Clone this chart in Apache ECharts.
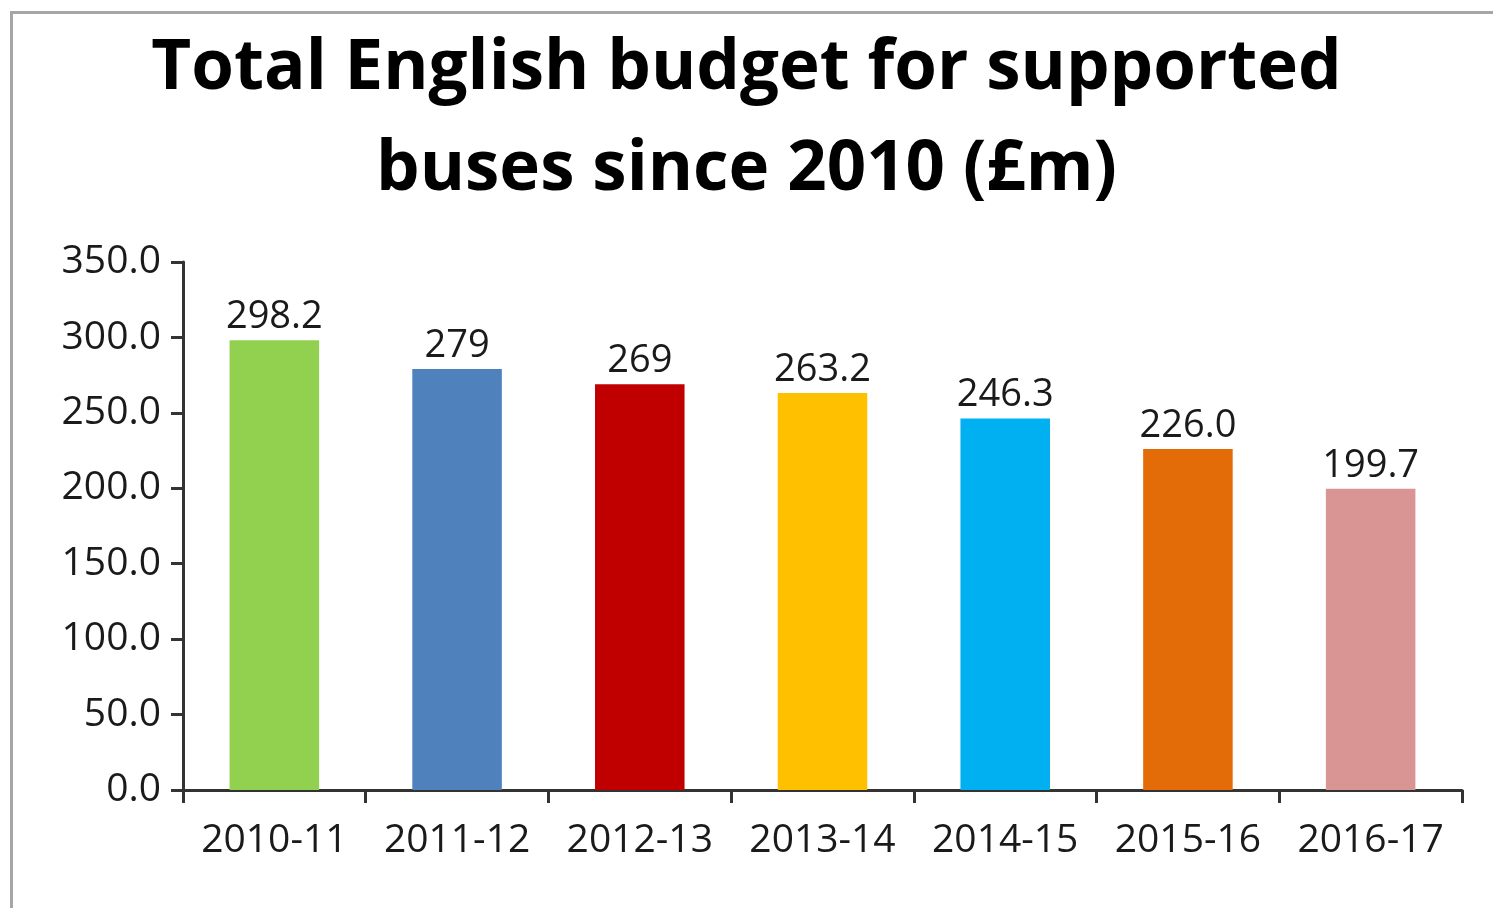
<!DOCTYPE html>
<html>
<head>
<meta charset="utf-8">
<script src="https://cdn.jsdelivr.net/npm/echarts@6/dist/echarts.min.js"></script>
<style>
html,body{margin:0;padding:0;background:#fff;overflow:hidden;}
#frame{position:absolute;left:10px;top:11px;width:1500px;height:920px;border:3px solid #a6a6a6;box-sizing:border-box;}
#chart{position:absolute;left:0;top:0;width:1493px;height:908px;}
</style>
</head>
<body>
<div id="frame"></div>
<div id="chart"></div>
<script>
const categories = ['2010-11','2011-12','2012-13','2013-14','2014-15','2015-16','2016-17'];
const budgetValues = [298.2, 279, 269, 263.2, 246.3, 226.0, 199.7];
const budgetLabels = ['298.2','279','269','263.2','246.3','226.0','199.7'];
const barColors = ['#92D050','#4F81BD','#C00000','#FFC000','#00B0F0','#E36C09','#D99594'];
const yTicks = [0,50,100,150,200,250,300,350];

const FONT = '"Open Sans", sans-serif';
const AXIS = '#333333';
const chart = echarts.init(document.getElementById('chart'), null, {renderer:'canvas'});
chart.setOption({
  animation:false,
  backgroundColor:'transparent',
  title:{
    text:'Total English budget for supported\nbuses since 2010 (£m)',
    left:'center', top:14,
    textStyle:{fontFamily:FONT, fontWeight:'bold', fontSize:69, lineHeight:101, color:'#000'}
  },
  grid:{left:183, right:31, top:262, bottom:118, containLabel:false},
  xAxis:{
    type:'category', data:categories,
    axisLine:{lineStyle:{color:AXIS, width:3}},
    axisTick:{show:true, alignWithLabel:false, interval:0, length:13, lineStyle:{color:AXIS, width:3}},
    axisLabel:{interval:0, hideOverlap:false, fontFamily:FONT, fontSize:39, color:'#1a1a1a', margin:31}
  },
  yAxis:{
    type:'value', min:0, max:350, interval:50,
    splitLine:{show:false},
    axisLine:{show:true, lineStyle:{color:AXIS, width:3}},
    axisTick:{show:true, length:12, lineStyle:{color:AXIS, width:3}},
    axisLabel:{fontFamily:FONT, fontSize:39, color:'#1a1a1a', margin:22,
      formatter:function(v){return yTicks.indexOf(v)>=0 ? v.toFixed(1) : '';}}
  },
  series:[{
    type:'bar',
    barWidth:'49%',
    data:budgetValues.map(function(v,i){return {value:v, itemStyle:{color:barColors[i]}};}),
    label:{show:true, position:'top', distance:4, fontFamily:FONT, fontSize:38, color:'#1a1a1a',
      formatter:function(p){return budgetLabels[p.dataIndex];}}
  }]
});
</script>
</body>
</html>
